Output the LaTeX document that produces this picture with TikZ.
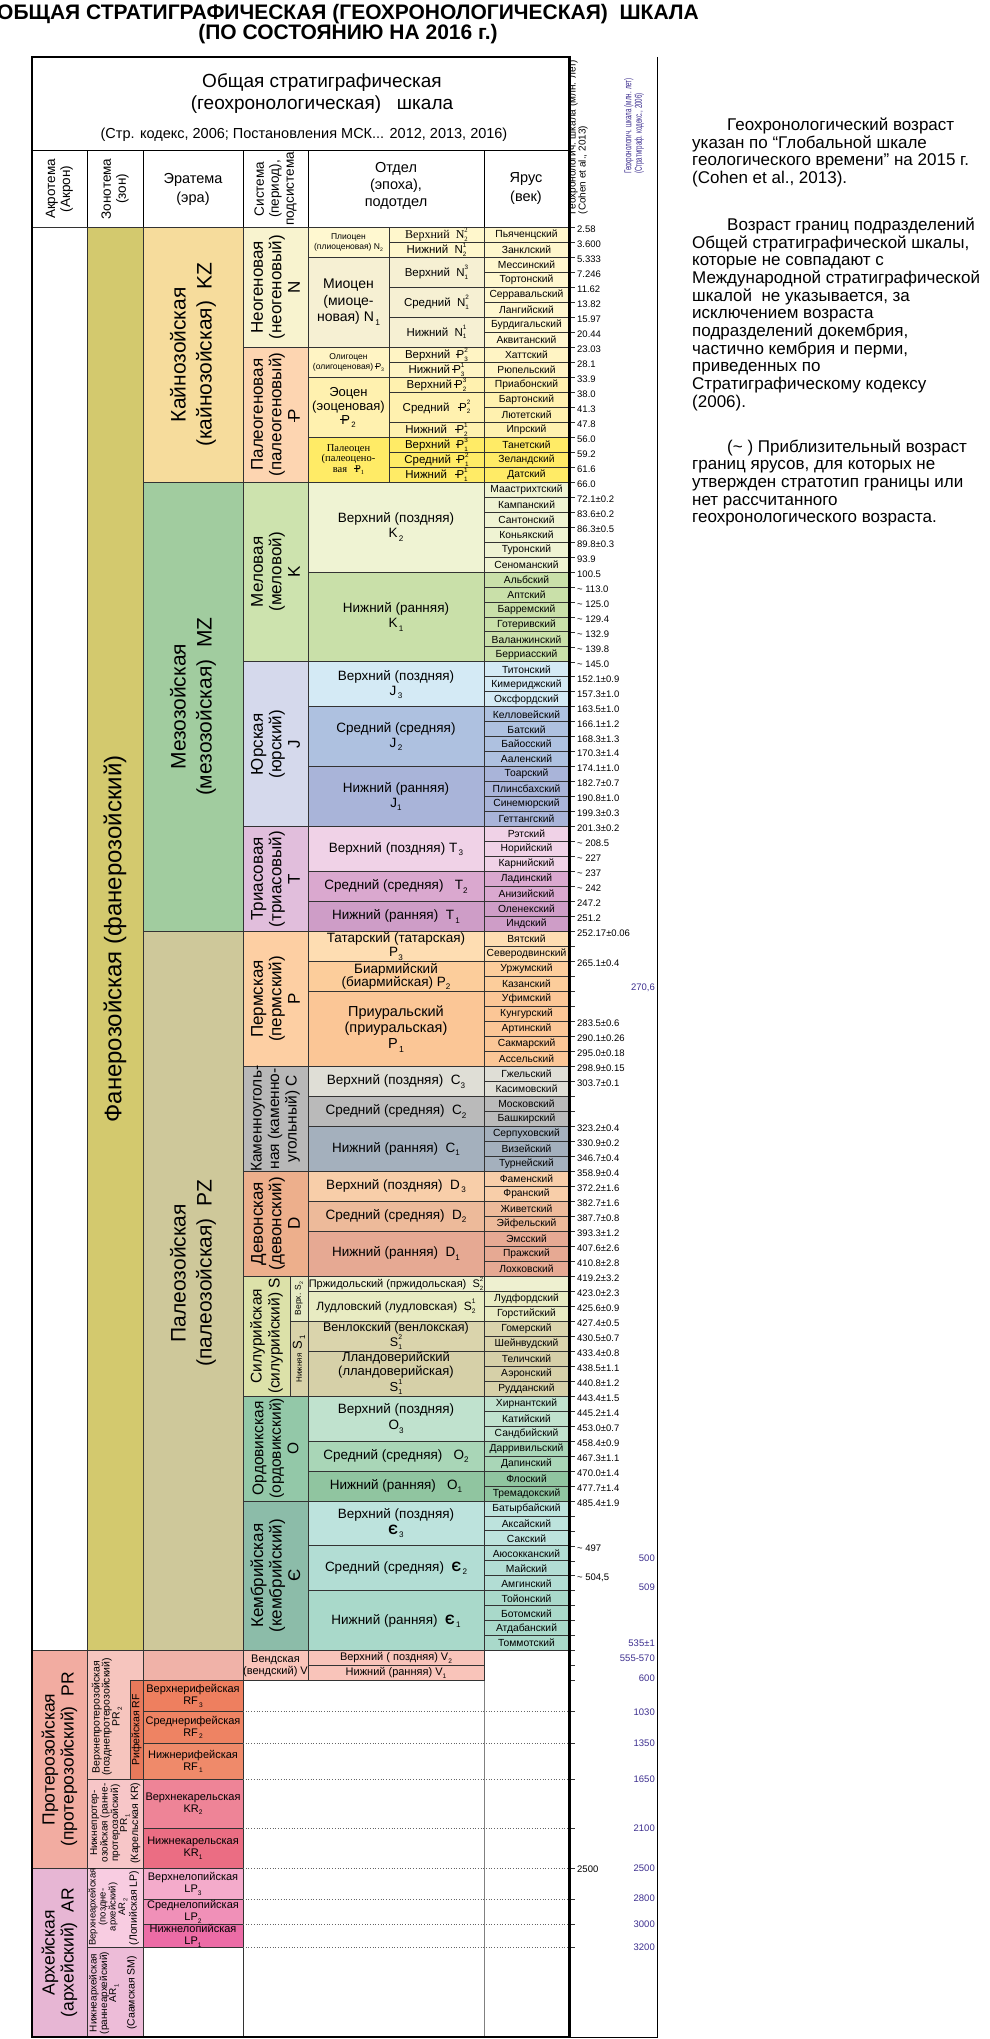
\documentclass[tikz,border=0pt]{standalone}
\usepackage{fontspec}
\setmainfont{Liberation Sans}
\newfontfamily\serif{Liberation Serif}
\usepackage{graphicx}
\definecolor{phan}{HTML}{D3C96E}
\definecolor{kz}{HTML}{F6DC9C}
\definecolor{neog}{HTML}{F8F3CF}
\definecolor{paleog}{HTML}{FDD5B1}
\definecolor{plio}{HTML}{FFF8D0}
\definecolor{pliost}{HTML}{FFF7CC}
\definecolor{mio}{HTML}{F6F0D3}
\definecolor{miost}{HTML}{FFF7CF}
\definecolor{olig}{HTML}{FFF4C4}
\definecolor{eoc}{HTML}{FFF1AF}
\definecolor{pal}{HTML}{FFEB66}
\definecolor{mz}{HTML}{A1CC9F}
\definecolor{cret}{HTML}{CDE3AE}
\definecolor{k2}{HTML}{EFF3D3}
\definecolor{k1}{HTML}{C9E0A9}
\definecolor{jur}{HTML}{D5D9EC}
\definecolor{j3}{HTML}{D4EAF5}
\definecolor{j2}{HTML}{AEC1E0}
\definecolor{j1}{HTML}{A9B4D9}
\definecolor{tri}{HTML}{E1BEDC}
\definecolor{t3}{HTML}{F0D2E7}
\definecolor{t2}{HTML}{DAA8CF}
\definecolor{t1}{HTML}{CE9DC7}
\definecolor{pz}{HTML}{CEC89A}
\definecolor{perm}{HTML}{FDCFA3}
\definecolor{p3}{HTML}{FEDDB2}
\definecolor{p2}{HTML}{FCCD9B}
\definecolor{p1}{HTML}{FBC696}
\definecolor{carb}{HTML}{B8B8B8}
\definecolor{c3}{HTML}{DFDED6}
\definecolor{c2}{HTML}{BABABA}
\definecolor{c1}{HTML}{A4B0BD}
\definecolor{dev}{HTML}{EDAF8C}
\definecolor{d3}{HTML}{F8CEA9}
\definecolor{d2}{HTML}{EDBA9A}
\definecolor{d1}{HTML}{E6A993}
\definecolor{sil}{HTML}{DCE1A9}
\definecolor{silv}{HTML}{E5E9C3}
\definecolor{siln}{HTML}{D8D2A9}
\definecolor{prid}{HTML}{EEF0D0}
\definecolor{lud}{HTML}{E8EBC2}
\definecolor{wen}{HTML}{DAD4AC}
\definecolor{lla}{HTML}{D6D0A8}
\definecolor{ord}{HTML}{93C8A8}
\definecolor{o3}{HTML}{C0E2CE}
\definecolor{o2}{HTML}{A9D6B7}
\definecolor{o1}{HTML}{90C5A0}
\definecolor{camb}{HTML}{8CBCA9}
\definecolor{cm3}{HTML}{BDE3DD}
\definecolor{cm2}{HTML}{B2DDD4}
\definecolor{cm1}{HTML}{A9D9CA}
\definecolor{vend}{HTML}{F9C4BA}
\definecolor{prC}{HTML}{F0B2A8}
\definecolor{pr}{HTML}{F2ACA1}
\definecolor{pr2}{HTML}{F6C5BE}
\definecolor{rif}{HTML}{E8795B}
\definecolor{rf3}{HTML}{EE7F5F}
\definecolor{rf2}{HTML}{EE8363}
\definecolor{rf1}{HTML}{EF8A6A}
\definecolor{pr1}{HTML}{F7C6C8}
\definecolor{kr2}{HTML}{EE8497}
\definecolor{kr1}{HTML}{EB6D83}
\definecolor{ar}{HTML}{E7B6D4}
\definecolor{ar2}{HTML}{F8CCE1}
\definecolor{ar1}{HTML}{EDBCD8}
\definecolor{lp3}{HTML}{F4ABCB}
\definecolor{lp2}{HTML}{F090B8}
\definecolor{lp1}{HTML}{EC6CA6}
\definecolor{purpc}{HTML}{3D2F8F}
\newcounter{cellc}
\newcommand\fs[2]{\fontsize{#1}{#2}\selectfont}
\newcommand\Pg{\makebox[0pt][l]{\kern-0.1em\rule[0.3em]{0.5em}{0.07em}}P}
\newcommand\sbs[1]{\raisebox{-0.25em}{\scalebox{0.6}{#1}}}
\newcommand\sbsp[2]{\rlap{\raisebox{-0.25em}{\scalebox{0.55}{#1}}}\raisebox{0.55em}{\scalebox{0.55}{#2}}}
\newcommand\ap{\textasciitilde\ }
\newcommand\Cell[7]{%
 \stepcounter{cellc}%
 \filldraw[cellline,fill=#5] ({#1},{#2}) rectangle ({#3},{#4});
 \node[#6] (cell\arabic{cellc}) at ({(#1+#3)/2},{(#2+#4)/2}) {#7};}
\newcommand\Stages[3]{\foreach \nm [count=\k from #1] in {#3} {\Cell{484}{ry(\k)}{569}{ry(\k+1)}{#2}{stage}{\nm}}}
\begin{document}
\begin{tikzpicture}[x=1pt,y=-1pt,
 declare function={ry(\i)=227.3+14.983*\i;},
 cellline/.style={draw=black!80, line width=0.7pt},
 stage/.style={font=\fs{10.3}{11}, inner sep=0pt},
 sub/.style={font=\fs{11.5}{12}, inner sep=0pt},
 ep/.style={font=\fs{13.5}{15}, align=center, inner sep=0pt},
 per/.style={font=\fs{17}{18.5}, align=center, rotate=90, inner sep=0pt},
 era/.style={font=\fs{21}{26}, align=center, rotate=90, inner sep=0pt},
 hdr/.style={font=\fs{13.5}{15}, align=center, rotate=90, inner sep=0pt},
 hdrh/.style={font=\fs{14.5}{18}, align=center, inner sep=0pt},
 age/.style={font=\fs{9.5}{10}, anchor=west, inner sep=0pt},
 purp/.style={font=\fs{9.5}{10}, anchor=east, text=purpc, inner sep=0pt},
 note/.style={font=\fs{17}{18}, anchor=base west, inner sep=0pt},
 tick/.style={draw=black!80, line width=0.6pt},
 dotline/.style={draw=black!60, line width=0.7pt, dotted},
 small/.style={font=\fs{10.5}{10}, align=center, rotate=90, inner sep=0pt},
 prec/.style={font=\fs{11}{12}, align=center, inner sep=0pt}]
\useasboundingbox (0,0) rectangle (990,2039);
\fill[white] (0,0) rectangle (990,2039);
% titles
\node[font=\bfseries\fs{21}{24}] (t1) at (348,14) {ОБЩАЯ СТРАТИГРАФИЧЕСКАЯ (ГЕОХРОНОЛОГИЧЕСКАЯ)\ \ ШКАЛА};
\node[font=\bfseries\fs{21}{24}] (t2) at (348,34) {(ПО СОСТОЯНИЮ НА 2016 г.)};
% header
\node[font=\fs{19}{22}, align=center] (h1) at (322,94) {Общая стратиграфическая\\(геохронологическая)\ \ \ шкала};
\node[font=\fs{14.5}{16}] (h2) at (304,135) {(Стр. кодекс, 2006; Постановления МСК... 2012, 2013, 2016)};
\draw[black, line width=0.9pt] (32,150) -- (569,150);
\foreach \xx in {87,143,243,308,484} \draw[black, line width=0.8pt] (\xx,150) -- (\xx,227.3);
\node[hdr] (hA) at (59.5,189) {Акротема\\(Акрон)};
\node[hdr] (hB) at (115,189) {Зонотема\\(зон)};
\node[hdrh,font=\fs{14.5}{19}] (hC) at (193,189) {Эратема\\(эра)};
\node[hdr] (hD) at (275.5,189) {Система\\(период),\\подсистема};
\node[hdrh,font=\fs{14.5}{17}] (hE) at (396,186) {Отдел\\(эпоха),\\подотдел};
\node[hdrh,font=\fs{14.5}{19}] (hF) at (526,189) {Ярус\\(век)};
% age column labels
\node[font=\fs{10}{10}, rotate=90, align=left, inner sep=0pt] (agelab) at (578,137) {Геохронологич. шкала (млн. лет)\\(Cohen et al., 2013)};
\node[font=\fs{10}{10.5}, rotate=90, align=left, inner sep=0pt, text=purpc] (purplab) at (634,126) {\scalebox{0.62}[1]{Геохронологич. шкала (млн. лет)}\\\scalebox{0.62}[1]{(Стратиграф. кодекс., 2006)}};
% ---------- Phanerozoic ----------
\Cell{32}{ry(0)}{87}{ry(95)}{white}{}{}
\Cell{87}{ry(0)}{143}{ry(95)}{phan}{era,font=\fs{24}{26}}{Фанерозойская (фанерозойский)}
\Cell{143}{ry(0)}{243}{ry(17)}{kz}{era}{Кайнозойская\\(кайнозойская)\ \ KZ}
\Cell{143}{ry(17)}{243}{ry(47)}{mz}{era}{Мезозойская\\(мезозойская)\ \ MZ}
\Cell{143}{ry(47)}{243}{ry(95)}{pz}{yshift=18pt,era}{Палеозойская\\(палеозойская)\ \ PZ}
% periods
\Cell{243}{ry(0)}{308}{ry(8)}{neog}{per}{Неогеновая\\(неогеновый)\\N}
\Cell{243}{ry(8)}{308}{ry(17)}{paleog}{per}{Палеогеновая\\(палеогеновый)\\\Pg}
\Cell{243}{ry(17)}{308}{ry(29)}{cret}{per}{Меловая\\(меловой)\\K}
\Cell{243}{ry(29)}{308}{ry(40)}{jur}{per}{Юрская\\(юрский)\\J}
\Cell{243}{ry(40)}{308}{ry(47)}{tri}{per}{Триасовая\\(триасовый)\\T}
\Cell{243}{ry(47)}{308}{ry(56)}{perm}{per}{Пермская\\(пермский)\\P}
\Cell{243}{ry(56)}{308}{ry(63)}{carb}{per,font=\fs{15.5}{17.5}}{Каменноуголь-\\ная (каменно-\\угольный) C}
\Cell{243}{ry(63)}{308}{ry(70)}{dev}{per}{Девонская\\(девонский)\\D}
\Cell{243}{ry(70)}{290}{ry(78)}{sil}{per,font=\fs{15.5}{18}}{Силурийская\\(силурийский) S}
\Cell{290}{ry(70)}{308}{ry(73)}{silv}{rotate=90,inner sep=0pt}{\fs{8.5}{9}Верх. S\sbs{2}}
\Cell{290}{ry(73)}{308}{ry(78)}{siln}{rotate=90,inner sep=0pt}{\fs{8}{9}Нижняя\ \ {\fs{13}{13}S\sbs{\,1}}}
\Cell{243}{ry(78)}{308}{ry(85)}{ord}{per,font=\fs{15.5}{17.5}}{Ордовикская\\(ордовикский)\\O}
\Cell{243}{ry(85)}{308}{ry(95)}{camb}{per}{Кембрийская\\(кембрийский)\\Є}
% Cenozoic divisions
\Cell{308}{ry(0)}{389}{ry(2)}{plio}{font=\fs{8.5}{10},align=center,inner sep=0pt}{Плиоцен\\(плиоценовая) N\sbs{2}}
\Cell{389}{ry(0)}{484}{ry(1)}{pliost}{font=\serif\fs{12}{12},inner sep=0pt}{Верхний\ \ N\sbsp{2}{2}}
\Cell{389}{ry(1)}{484}{ry(2)}{pliost}{sub}{Нижний\ \ N\sbsp{2}{1}}
\Cell{308}{ry(2)}{389}{ry(8)}{mio}{font=\fs{14}{16.5},align=center,inner sep=0pt}{Миоцен\\(миоце-\\новая) N\sbs{\,1}}
\Cell{389}{ry(2)}{484}{ry(4)}{mio}{sub}{Верхний\ \ N\sbsp{1}{3}}
\Cell{389}{ry(4)}{484}{ry(6)}{mio}{sub}{Средний\ \ N\sbsp{1}{2}}
\Cell{389}{ry(6)}{484}{ry(8)}{mio}{sub}{Нижний\ \ N\sbsp{1}{1}}
\Cell{308}{ry(8)}{389}{ry(10)}{olig}{font=\fs{8.5}{10},align=center,inner sep=0pt}{Олигоцен\\(олигоценовая) \Pg\sbs{3}}
\Cell{389}{ry(8)}{484}{ry(9)}{olig}{sub}{Верхний\ \ \Pg\sbsp{3}{2}}
\Cell{389}{ry(9)}{484}{ry(10)}{olig}{sub}{Нижний\ \Pg\sbsp{3}{1}}
\Cell{308}{ry(10)}{389}{ry(14)}{eoc}{font=\fs{13}{14},align=center,inner sep=0pt}{Эоцен\\(эоценовая)\\\Pg\sbs{\,2}}
\Cell{389}{ry(10)}{484}{ry(11)}{eoc}{sub}{Верхний \Pg\sbsp{2}{3}}
\Cell{389}{ry(11)}{484}{ry(13)}{eoc}{sub}{Средний\ \ \ \Pg\sbsp{2}{2}}
\Cell{389}{ry(13)}{484}{ry(14)}{eoc}{sub}{Нижний\ \ \ \Pg\sbsp{2}{1}}
\Cell{308}{ry(14)}{389}{ry(17)}{pal}{font=\serif\fs{10.5}{10.5},align=center,inner sep=0pt}{Палеоцен\\(палеоцено-\\вая\ \ \ \Pg\sbs{1}}
\Cell{389}{ry(14)}{484}{ry(15)}{pal}{sub}{Верхний\ \ \Pg\sbsp{1}{3}}
\Cell{389}{ry(15)}{484}{ry(16)}{pal}{sub}{Средний\ \ \Pg\sbsp{1}{2}}
\Cell{389}{ry(16)}{484}{ry(17)}{pal}{sub}{Нижний\ \ \ \Pg\sbsp{1}{1}}
% Mesozoic epochs
\Cell{308}{ry(17)}{484}{ry(23)}{k2}{ep}{Верхний (поздняя)\\K\sbs{\,2}}
\Cell{308}{ry(23)}{484}{ry(29)}{k1}{ep}{Нижний (ранняя)\\K\sbs{\,1}}
\Cell{308}{ry(29)}{484}{ry(32)}{j3}{ep}{Верхний (поздняя)\\J\sbs{\,3}}
\Cell{308}{ry(32)}{484}{ry(36)}{j2}{ep}{Средний (средняя)\\J\sbs{\,2}}
\Cell{308}{ry(36)}{484}{ry(40)}{j1}{ep}{Нижний (ранняя)\\J\sbs{1}}
\Cell{308}{ry(40)}{484}{ry(43)}{t3}{ep}{Верхний (поздняя) T\sbs{\,3}}
\Cell{308}{ry(43)}{484}{ry(45)}{t2}{ep}{Средний (средняя)\ \ \ T\sbs{2}}
\Cell{308}{ry(45)}{484}{ry(47)}{t1}{ep}{Нижний (ранняя)\ \ T\sbs{\,1}}
% Paleozoic epochs
\Cell{308}{ry(47)}{484}{ry(49)}{p3}{ep,font=\fs{13.5}{14}}{Татарский (татарская)\\P\sbs{3}}
\Cell{308}{ry(49)}{484}{ry(51)}{p2}{ep,font=\fs{13.5}{13}}{Биармийский\\(биармийская) P\sbs{2}}
\Cell{308}{ry(51)}{484}{ry(56)}{p1}{ep,font=\fs{14.5}{16}}{Приуральский\\(приуральская)\\P\sbs{\,1}}
\Cell{308}{ry(56)}{484}{ry(58)}{c3}{ep}{Верхний (поздняя)\ \ C\sbs{3}}
\Cell{308}{ry(58)}{484}{ry(60)}{c2}{ep}{Средний (средняя)\ \ C\sbs{2}}
\Cell{308}{ry(60)}{484}{ry(63)}{c1}{ep}{Нижний (ранняя)\ \ C\sbs{1}}
\Cell{308}{ry(63)}{484}{ry(65)}{d3}{ep}{Верхний (поздняя)\ \ D\sbs{\,3}}
\Cell{308}{ry(65)}{484}{ry(67)}{d2}{ep}{Средний (средняя)\ \ D\sbs{2}}
\Cell{308}{ry(67)}{484}{ry(70)}{d1}{ep}{Нижний (ранняя)\ \ D\sbs{1}}
\Cell{308}{ry(70)}{484}{ry(71)}{prid}{font=\fs{11}{11},inner sep=0pt}{Пржидольский (пржидольская)\ \ S\sbsp{2}{2}}
\Cell{484}{ry(70)}{569}{ry(71)}{prid}{}{}
\Cell{308}{ry(71)}{484}{ry(73)}{lud}{font=\fs{12}{12},inner sep=0pt}{Лудловский (лудловская)\ \ S\sbsp{2}{1}}
\Cell{308}{ry(73)}{484}{ry(75)}{wen}{font=\fs{12.5}{12.5},align=center,inner sep=0pt}{Венлокский (венлокская)\\S\sbsp{1}{2}}
\Cell{308}{ry(75)}{484}{ry(78)}{lla}{font=\fs{13}{14},align=center,inner sep=0pt}{Лландоверийский\\(лландоверийская)\\S\sbsp{1}{1}}
\Cell{308}{ry(78)}{484}{ry(81)}{o3}{ep,font=\fs{13.5}{16.5}}{Верхний (поздняя)\\O\sbs{3}}
\Cell{308}{ry(81)}{484}{ry(83)}{o2}{ep}{Средний (средняя)\ \ \ O\sbs{2}}
\Cell{308}{ry(83)}{484}{ry(85)}{o1}{ep}{Нижний (ранняя)\ \ \ O\sbs{1}}
\Cell{308}{ry(85)}{484}{ry(88)}{cm3}{ep,font=\fs{13.5}{15.5}}{Верхний (поздняя)\\\textbf{Є}\sbs{\,3}}
\Cell{308}{ry(88)}{484}{ry(91)}{cm2}{ep}{Средний (средняя)\ \ \textbf{Є}\sbs{\,2}}
\Cell{308}{ry(91)}{484}{ry(95)}{cm1}{ep}{Нижний (ранняя)\ \ \textbf{Є}\sbs{\,1}}
% stages
\Stages{0}{pliost}{Пьяченцский,Занклский}
\Stages{2}{miost}{Мессинский,Тортонский,Серравальский,Лангийский,Бурдигальский,Аквитанский}
\Stages{8}{olig}{Хаттский,Рюпельский}
\Stages{10}{eoc}{Приабонский,Бартонский,Лютетский,Ипрский}
\Stages{14}{pal}{Танетский,Зеландский,Датский}
\Stages{17}{k2}{Маастрихтский,Кампанский,Сантонский,Коньякский,Туронский,Сеноманский}
\Stages{23}{k1}{Альбский,Аптский,Барремский,Готеривский,Валанжинский,Берриасский}
\Stages{29}{j3}{Титонский,Кимериджский,Оксфордский}
\Stages{32}{j2}{Келловейский,Батский,Байосский,Ааленский}
\Stages{36}{j1}{Тоарский,Плинсбахский,Синемюрский,Геттангский}
\Stages{40}{t3}{Рэтский,Норийский,Карнийский}
\Stages{43}{t2}{Ладинский,Анизийский}
\Stages{45}{t1}{Оленекский,Индский}
\Stages{47}{p3}{Вятский,Северодвинский}
\Stages{49}{p2}{Уржумский,Казанский}
\Stages{51}{p1}{Уфимский,Кунгурский,Артинский,Сакмарский,Ассельский}
\Stages{56}{c3}{Гжельский,Касимовский}
\Stages{58}{c2}{Московский,Башкирский}
\Stages{60}{c1}{Серпуховский,Визейский,Турнейский}
\Stages{63}{d3}{Фаменский,Франский}
\Stages{65}{d2}{Живетский,Эйфельский}
\Stages{67}{d1}{Эмсский,Пражский,Лохковский}
\Stages{71}{lud}{Лудфордский,Горстийский}
\Stages{73}{wen}{Гомерский,Шейнвудский}
\Stages{75}{lla}{Теличский,Аэронский,Рудданский}
\Stages{78}{o3}{Хирнантский,Катийский,Сандбийский}
\Stages{81}{o2}{Дарривильский,Дапинский}
\Stages{83}{o1}{Флоский,Тремадокский}
\Stages{85}{cm3}{Батырбайский,Аксайский,Сакский}
\Stages{88}{cm2}{Аюсокканский,Майский,Амгинский}
\Stages{91}{cm1}{Тойонский,Ботомский,Атдабанский,Томмотский}
% ---------- Precambrian ----------
\Cell{143}{ry(95)}{243}{ry(97)}{prC}{}{}
\Cell{243}{ry(95)}{308}{ry(97)}{vend}{font=\fs{11}{12},align=center,inner sep=0pt}{Вендская\\(вендский) V}
\Cell{308}{ry(95)}{484}{ry(96)}{vend}{font=\fs{11}{11},inner sep=0pt}{Верхний ( поздняя) V\sbs{2}}
\Cell{308}{ry(96)}{484}{ry(97)}{vend}{font=\fs{11}{11},inner sep=0pt}{Нижний (ранняя) V\sbs{1}}
\draw[draw=black!50, line width=0.8pt] (484,{ry(97)}) -- (484,2037);
\draw[cellline] (243,{ry(97)}) -- (243,2037);
\Cell{32}{ry(95)}{87}{1868.3}{pr}{era,font=\fs{17.5}{19}}{Протерозойская\\(протерозойский)\ \ PR}
\Cell{32}{1868.3}{87}{2037}{ar}{era,font=\fs{17.5}{19}}{Архейская\\(архейский)\ \ AR}
\Cell{87}{ry(95)}{143}{1779.3}{pr2}{}{}
\node[small] (pr2t) at (107,1717) {Верхнепротерозойская\\(позднепротерозойский)\\PR\sbs{\,2}};
\Cell{130}{ry(97)}{143}{1779.3}{rif}{small}{Рифейская RF}
\Cell{87}{1779.3}{143}{1868.3}{pr1}{}{}
\node[small,font=\fs{10}{9}] (pr1t) at (110,1823) {Нижнепротер-\\озойская (ранне-\\протерозойский)\\PR\sbs{\,1}};
\node[small] (krt) at (135.5,1823) {(Карельская KR)};
\Cell{87}{1868.3}{143}{1947.3}{ar2}{}{}
\node[small,font=\fs{9.5}{8}] (ar2t) at (108,1907) {Верхнеархейская\\(поздне-\\архейский)\\AR\sbs{\,2}};
\node[small] (lpt) at (134,1908) {(Лопийская LP)};
\Cell{87}{1947.3}{143}{2037}{ar1}{}{}
\node[small,font=\fs{10}{9}] (ar1t) at (104,1993) {Нижнеархейская\\(раннеархейский)\\AR\sbs{\,1}};
\node[small] (smt) at (132,1993) {(Саамская SM)};
\Cell{143}{ry(97)}{243}{1711.7}{rf3}{prec}{Верхнерифейская\\RF\sbs{\,3}}
\Cell{143}{1711.7}{243}{1743.3}{rf2}{prec}{Среднерифейская\\RF\sbs{\,2}}
\Cell{143}{1743.3}{243}{1779.3}{rf1}{prec}{Нижнерифейская\\RF\sbs{\,1}}
\Cell{143}{1779.3}{243}{1828.3}{kr2}{prec}{Верхнекарельская\\KR\sbs{2}}
\Cell{143}{1828.3}{243}{1868.3}{kr1}{prec}{Нижнекарельская\\KR\sbs{1}}
\Cell{143}{1868.3}{243}{1899.3}{lp3}{prec}{Верхнелопийская\\LP\sbs{3}}
\Cell{143}{1899.3}{243}{1924.3}{lp2}{prec}{Среднелопийская\\LP\sbs{2}}
\Cell{143}{1924.3}{243}{1947.3}{lp1}{prec}{Нижнелопийская\\LP\sbs{1}}
\Cell{143}{1947.3}{243}{2037}{white}{}{}
\foreach \yy in {1711.7,1743.3,1779.3,1828.3,1868.3,1899.3,1924.3,1947.3} \draw[dotline] (243,\yy) -- (569,\yy);
% ticks
\foreach \rr in {0,...,97} \draw[tick] (569,{ry(\rr)}) -- (575,{ry(\rr)});
\foreach \yy in {1711.7,1743.3,1779.3,1828.3,1868.3,1899.3,1924.3,1947.3} \draw[tick] (569,\yy) -- (575,\yy);
% black ages
\foreach \rr/\tx in {0/2.58,1/3.600,2/5.333,3/7.246,4/11.62,5/13.82,6/15.97,7/20.44,8/23.03,9/28.1,10/33.9,11/38.0,12/41.3,13/47.8,14/56.0,15/59.2,16/61.6,17/66.0,18/72.1±0.2,19/83.6±0.2,20/86.3±0.5,21/89.8±0.3,22/93.9,23/100.5,24/\ap113.0,25/\ap125.0,26/\ap129.4,27/\ap132.9,28/\ap139.8,29/\ap145.0,30/152.1±0.9,31/157.3±1.0,32/163.5±1.0,33/166.1±1.2,34/168.3±1.3,35/170.3±1.4,36/174.1±1.0,37/182.7±0.7,38/190.8±1.0,39/199.3±0.3,40/201.3±0.2,41/\ap208.5,42/\ap227,43/\ap237,44/\ap242,45/247.2,46/251.2,47/252.17±0.06,49/265.1±0.4,53/283.5±0.6,54/290.1±0.26,55/295.0±0.18,56/298.9±0.15,57/303.7±0.1,60/323.2±0.4,61/330.9±0.2,62/346.7±0.4,63/358.9±0.4,64/372.2±1.6,65/382.7±1.6,66/387.7±0.8,67/393.3±1.2,68/407.6±2.6,69/410.8±2.8,70/419.2±3.2,71/423.0±2.3,72/425.6±0.9,73/427.4±0.5,74/430.5±0.7,75/433.4±0.8,76/438.5±1.1,77/440.8±1.2,78/443.4±1.5,79/445.2±1.4,80/453.0±0.7,81/458.4±0.9,82/467.3±1.1,83/470.0±1.4,84/477.7±1.4,85/485.4±1.9,88/\ap497,90/{\ap504,5}}
 \node[age] (a\rr) at (577,{ry(\rr)+2}) {\tx};
\node[age] (a2500) at (577,1869) {2500};
% purple ages
\foreach \yy/\tx [count=\i] in {988/{270,6},1558/500,1587/509,1643/535±1,1658/555-570,1678/600,1712/1030,1743/1350,1779/1650,1828/2100,1868/2500,1898/2800,1924/3000,1947/3200}
 \node[purp] (pa\i) at (655,\yy) {\tx};
% borders
\draw[black, line width=0.8pt] (657,57) -- (657,2037) -- (569,2037);
\draw[black, line width=2.2pt] (569,57) -- (32,57) -- (32,2037) -- (569,2037);
\draw[black, line width=3pt] (569,56) -- (569,2038);
% notes
\node[note] (n1) at (727,130.5) {Геохронологический возраст};
\node[note] (n2) at (692,148.2) {указан по “Глобальной шкале};
\node[note] (n3) at (692,165.8) {геологического времени” на 2015 г.};
\node[note] (n4) at (692,183.5) {(Cohen et al., 2013).};
\node[note] (n5) at (727,230.5) {Возраст границ подразделений};
\node[note] (n6) at (692,248.2) {Общей стратиграфической шкалы,};
\node[note] (n7) at (692,265.8) {которые не совпадают с};
\node[note] (n8) at (692,283.5) {Международной стратиграфической};
\node[note] (n9) at (692,301.2) {шкалой\ \ не указывается, за};
\node[note] (n10) at (692,318.8) {исключением возраста};
\node[note] (n11) at (692,336.5) {подразделений докембрия,};
\node[note] (n12) at (692,354.2) {частично кембрия и перми,};
\node[note] (n13) at (692,371.8) {приведенных по};
\node[note] (n14) at (692,389.5) {Стратиграфическому кодексу};
\node[note] (n15) at (692,407.2) {(2006).};
\node[note] (n16) at (727,452) {(\textasciitilde\ ) Приблизительный возраст};
\node[note] (n17) at (692,469.7) {границ ярусов, для которых не};
\node[note] (n18) at (692,487.3) {утвержден стратотип границы или};
\node[note] (n19) at (692,505) {нет рассчитанного};
\node[note] (n20) at (692,522.7) {геохронологического возраста.};
\end{tikzpicture}
\end{document}
